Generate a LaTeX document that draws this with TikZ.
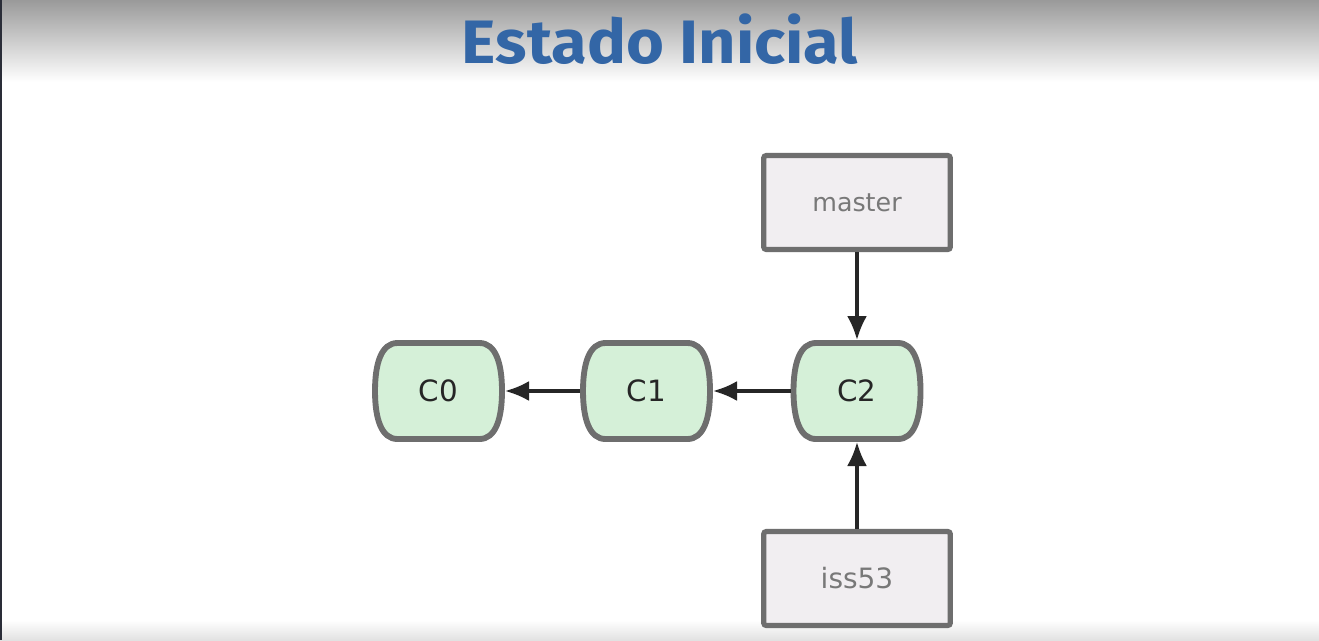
\documentclass[tikz,border=0pt]{standalone}
\usepackage{fontspec}
\setmainfont{DejaVu Sans}
\newfontfamily\titlefont{Fira Sans}
\usetikzlibrary{arrows.meta,backgrounds}
\definecolor{titleblue}{RGB}{51,102,166}
\definecolor{hdrgray}{RGB}{154,154,154}
\definecolor{commitfill}{RGB}{213,240,216}
\definecolor{edgegray}{RGB}{110,110,110}
\definecolor{boxfill}{RGB}{241,238,241}
\definecolor{labelgray}{RGB}{120,120,120}
\definecolor{footgray}{RGB}{226,226,226}
\definecolor{leftline}{RGB}{42,45,56}
\begin{document}
\begin{tikzpicture}[x=0.75pt,y=-0.75pt,
  commit/.style={minimum width=99.75pt, minimum height=76.5pt, inner sep=0pt, outer sep=0pt,
    font=\fontsize{22}{26}\selectfont, text=black!85},
  commitline/.style={draw=edgegray, fill=commitfill, line width=4.4pt},
  branch/.style={draw=edgegray, fill=boxfill, line width=3.9pt, rounded corners=2pt,
    minimum width=140pt, minimum height=70.5pt, inner sep=0pt,
    font=\fontsize{19}{23}\selectfont, text=labelgray},
  ptr/.style={line width=2.4pt, draw=black!85, -{Latex[length=18pt,width=15pt]}}]
\useasboundingbox (0,0) rectangle (1319,640);

\node[font=\titlefont\bfseries\fontsize{46}{50}\selectfont, text=titleblue, anchor=base, xscale=1.06] (title) at (660,63) {Estado Inicial};

\node[commit] (c0) at (438.5,391) {C0};
\node[commit] (c1) at (646.5,391) {C1};
\node[commit] (c2) at (857,391) {C2};
\node[branch] (master) at (857,202.5) {master};
\node[branch, font=\fontsize{21}{24}\selectfont] (iss53) at (857,578.5) {iss53};

\draw[ptr] (c2.west) -- (c1.east);
\draw[ptr] (c1.west) -- (c0.east);
\draw[ptr] (master.south) -- (c2.north);
\draw[ptr] (iss53.north) -- (c2.south);

\begin{scope}[on background layer]
  \fill[white] (0,0) rectangle (1319,640);
  \shade[top color=hdrgray, bottom color=white] (0,0) rectangle (1319,82);
  \shade[top color=white, bottom color=footgray] (0,620) rectangle (1319,640);
  \fill[leftline] (0,0) rectangle (2,640);
  \foreach \n in {c0,c1,c2}{
    \begin{scope}[shift={(\n.center)}]
      \draw[commitline] (-41,-48) -- (41,-48)
        .. controls (57,-48) and (63.5,-28) .. (63.5,0)
        .. controls (63.5,28) and (57,48) .. (41,48)
        -- (-41,48)
        .. controls (-57,48) and (-63.5,28) .. (-63.5,0)
        .. controls (-63.5,-28) and (-57,-48) .. (-41,-48) -- cycle;
    \end{scope}
  }
\end{scope}
\end{tikzpicture}
\end{document}
